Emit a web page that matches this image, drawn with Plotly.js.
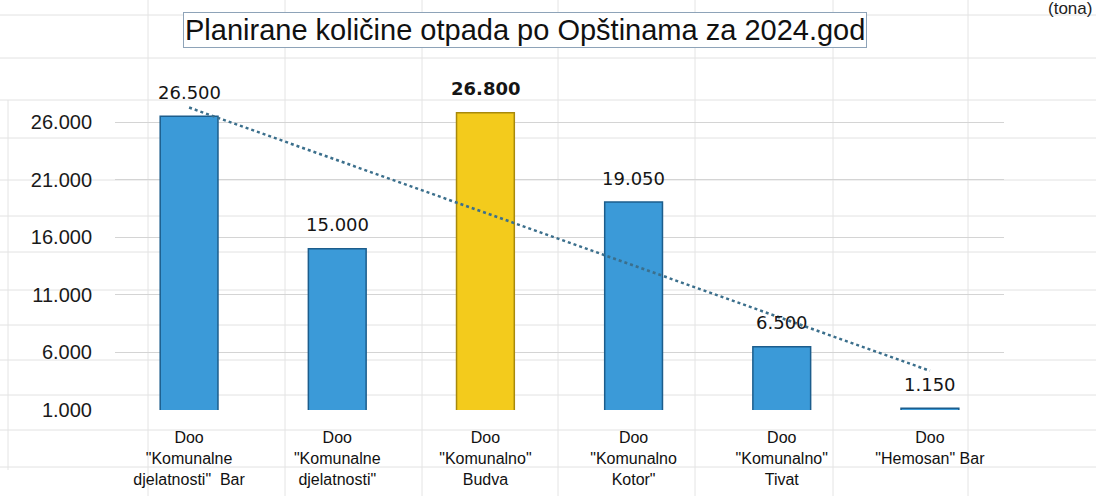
<!DOCTYPE html>
<html>
<head>
<meta charset="utf-8">
<script src="https://cdn.plot.ly/plotly-3.0.1.min.js"></script>
<style>
  html, body { margin: 0; padding: 0; background: #fff; }
  #chart { width: 1096px; height: 496px; }
</style>
</head>
<body>
<div id="chart"></div>
<script>
// Podaci
var categories = [
    'Doo<br>"Komunalne<br>djelatnosti"  Bar',
    'Doo<br>"Komunalne<br>djelatnosti"',
    'Doo<br>"Komunalno"<br>Budva',
    'Doo<br>"Komunalno<br>Kotor"',
    'Doo<br>"Komunalno"<br>Tivat',
    'Doo<br>"Hemosan" Bar'
];
var values = [26500, 15000, 26800, 19050, 6500, 1150];
var tickValues = [1000, 6000, 11000, 16000, 21000, 26000];

// Stil
var barColors = ['#3b9ad8', '#3b9ad8', '#f3cb1c', '#3b9ad8', '#3b9ad8', '#3b9ad8'];
var barLines = ['#1c5d8c', '#1c5d8c', '#a8890c', '#1c5d8c', '#1c5d8c', '#1c5d8c'];
var boldLabel = [false, false, true, false, false, false];

// Linearni trend (kao u Excelu)
var n = values.length;
var mx = (n - 1) / 2;
var my = values.reduce(function(a, b) { return a + b; }, 0) / n;
var sxy = 0, sxx = 0;
for (var i = 0; i < n; i++) {
    sxy += (i - mx) * (values[i] - my);
    sxx += (i - mx) * (i - mx);
}
var slope = sxy / sxx;
var trend = values.map(function(v, i) { return my + slope * (i - mx); });

function fmt(v) {
    return String(v).replace(/\B(?=(\d{3})+(?!\d))/g, '.');
}

// Pozicije u pikselima -> paper koordinate
var L = 115, R = 1004, T = 76, B = 410;
function px(x) { return (x - L) / (R - L); }
function py(y) { return (B - y) / (B - T); }

var shapes = [];
// linije tabele u pozadini
[15, 58, 100, 138, 180, 216, 252, 290, 325, 360, 395, 430, 467].forEach(function(y) {
    shapes.push({type: 'line', xref: 'paper', yref: 'paper', x0: px(0), x1: px(1096), y0: py(y), y1: py(y),
        line: {color: '#e2e2e2', width: 1}, layer: 'below'});
});
[148, 285, 422, 558, 695, 833, 968].forEach(function(x) {
    shapes.push({type: 'line', xref: 'paper', yref: 'paper', x0: px(x), x1: px(x), y0: py(0), y1: py(496),
        line: {color: '#e4e4e4', width: 1}, layer: 'below'});
});
shapes.push({type: 'line', xref: 'paper', yref: 'paper', x0: px(8), x1: px(8), y0: py(100), y1: py(470),
    line: {color: '#e4e4e4', width: 1}, layer: 'below'});

var annotations = values.map(function(v, i) {
    return {
        x: categories[i], y: v, xref: 'x', yref: 'y',
        text: boldLabel[i] ? '<b>' + fmt(v) + '</b>' : fmt(v),
        showarrow: false, yanchor: 'middle', yshift: 24,
        font: {family: 'DejaVu Sans, sans-serif', size: 18, color: '#151515'}
    };
});
annotations.push({
    xref: 'paper', yref: 'paper', x: px(525), y: py(30),
    xanchor: 'center', yanchor: 'middle', showarrow: false,
    text: 'Planirane količine otpada po Opštinama za 2024.god',
    font: {family: 'Liberation Sans Narrow, Arial Narrow, Liberation Sans, sans-serif', size: 29, color: '#111'},
    bordercolor: '#8ea3b8', borderwidth: 1, borderpad: 1, bgcolor: '#fff'
});
annotations.push({
    xref: 'paper', yref: 'paper', x: px(1070), y: py(9),
    xanchor: 'center', yanchor: 'middle', showarrow: false,
    text: '(tona)',
    font: {family: 'Liberation Sans, Arial, sans-serif', size: 17, color: '#222'}
});

var data = [{
    type: 'bar',
    x: categories,
    y: values,
    marker: {color: barColors, line: {color: barLines, width: 1.5}},
    hoverinfo: 'none',
    showlegend: false
}, {
    type: 'scatter',
    mode: 'lines',
    x: categories,
    y: trend,
    line: {color: '#3b6f8c', width: 2.5, dash: 'dot'},
    hoverinfo: 'none',
    showlegend: false
}];

var layout = {
    width: 1096,
    height: 496,
    margin: {l: L, r: 1096 - R, t: T, b: 496 - B},
    paper_bgcolor: '#fff',
    plot_bgcolor: 'rgba(0,0,0,0)',
    separators: ',.',
    bargap: 0.61,
    showlegend: false,
    xaxis: {
        type: 'category',
        range: [-0.5, 5.5],
        showgrid: false,
        zeroline: false,
        showline: false,
        ticks: '',
        ticklabelstandoff: 16,
        tickfont: {family: 'Liberation Sans Narrow, Arial Narrow, Liberation Sans, sans-serif', size: 16, color: '#111'}
    },
    yaxis: {
        range: [1000, 30000],
        tickmode: 'array',
        tickvals: tickValues,
        ticktext: tickValues.map(fmt),
        showgrid: true,
        gridcolor: '#d4d4d4',
        gridwidth: 1,
        zeroline: false,
        showline: false,
        ticks: '',
        ticklabelstandoff: 22,
        tickfont: {family: 'Liberation Sans, Arial, sans-serif', size: 20, color: '#1a1a1a'}
    },
    shapes: shapes,
    annotations: annotations
};

Plotly.newPlot('chart', data, layout, {displayModeBar: false, staticPlot: true});
</script>
</body>
</html>
